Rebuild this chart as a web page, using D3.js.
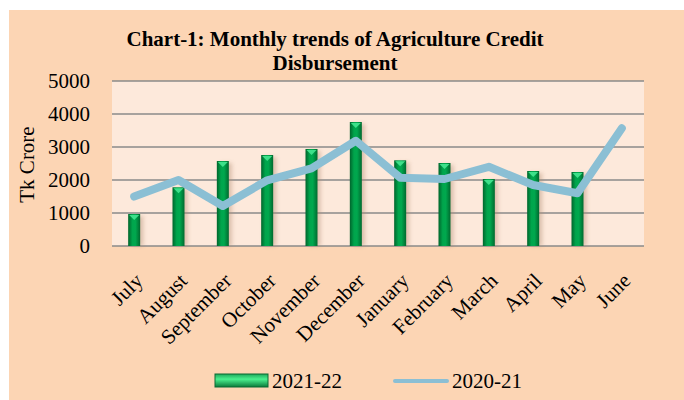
<!DOCTYPE html>
<html>
<head>
<meta charset="utf-8">
<script src="https://cdn.jsdelivr.net/npm/d3@7"></script>
<style>
  body { margin: 0; background: #ffffff; }
  text { font-family: "Liberation Serif", "Times New Roman", serif; fill: #000; }
</style>
</head>
<body>
<div id="chart"></div>
<script>
// chart data
var months = ["July", "August", "September", "October", "November", "December",
              "January", "February", "March", "April", "May", "June"];
var credit2122 = [970, 1780, 2575, 2757, 2940, 3757, 2597, 2515, 2030, 2273, 2242, null];
var credit2021 = [1500, 2000, 1212, 1990, 2354, 3190, 2070, 2030, 2400, 1850, 1600, 3567];
var yTicks = [0, 1000, 2000, 3000, 4000, 5000];

var svgWidth = 684;
var svgHeight = 400;

var margin = { top: 81, left: 112, right: 40, bottom: 154 };
var width = 644 - margin.left;
var height = 246 - margin.top;

var svg = d3.select("#chart")
  .append("svg")
  .attr("width", svgWidth)
  .attr("height", svgHeight);

var defs = svg.append("defs");
var grad = defs.append("linearGradient").attr("id", "barGrad")
  .attr("x1", "0%").attr("x2", "100%").attr("y1", "0%").attr("y2", "0%");
grad.append("stop").attr("offset", "0%").attr("stop-color", "#00652c");
grad.append("stop").attr("offset", "35%").attr("stop-color", "#00a54c");
grad.append("stop").attr("offset", "60%").attr("stop-color", "#00a84e");
grad.append("stop").attr("offset", "100%").attr("stop-color", "#006a2f");

var legGrad = defs.append("linearGradient").attr("id", "legGrad")
  .attr("x1", "0%").attr("x2", "0%").attr("y1", "0%").attr("y2", "100%");
legGrad.append("stop").attr("offset", "0%").attr("stop-color", "#1fa85a");
legGrad.append("stop").attr("offset", "40%").attr("stop-color", "#4cf08f");
legGrad.append("stop").attr("offset", "100%").attr("stop-color", "#0a7a3a");

var blur = defs.append("filter").attr("id", "shadow")
  .attr("x", "-50%").attr("y", "-10%").attr("width", "200%").attr("height", "120%");
blur.append("feGaussianBlur").attr("stdDeviation", 2);

// outer background
svg.append("rect")
  .attr("x", 9).attr("y", 10)
  .attr("width", svgWidth - 9).attr("height", svgHeight - 10)
  .attr("fill", "#fcd5b4");

// title
var title = svg.append("text")
  .attr("text-anchor", "middle")
  .attr("font-weight", "bold")
  .attr("font-size", 21);
title.append("tspan").attr("x", 335).attr("y", 46).text("Chart-1: Monthly trends of Agriculture Credit");
title.append("tspan").attr("x", 335).attr("y", 70).text("Disbursement");

var chartGroup = svg.append("g")
  .attr("transform", `translate(${margin.left}, ${margin.top})`);

chartGroup.append("rect")
  .attr("width", width).attr("height", height)
  .attr("fill", "#fde9db");

var xScale = d3.scaleBand()
  .domain(months)
  .range([0, width]);

var yScale = d3.scaleLinear()
  .domain([0, 5000])
  .range([height, 0]);

// gridlines
chartGroup.selectAll(".grid")
  .data(yTicks)
  .enter()
  .append("line")
  .attr("x1", 0).attr("x2", width)
  .attr("y1", d => yScale(d)).attr("y2", d => yScale(d))
  .attr("stroke", "#8a8a8a")
  .attr("stroke-width", 1.5);

// y axis labels
var leftAxis = d3.axisLeft(yScale).tickValues(yTicks).tickFormat(d3.format("d")).tickSize(0).tickPadding(22);
var yAxis = chartGroup.append("g").call(leftAxis);
yAxis.select(".domain").remove();
yAxis.selectAll("text")
  .attr("font-size", 21)
  .attr("font-family", "Liberation Serif, serif")
  .attr("fill", "#000");

chartGroup.append("text")
  .attr("transform", "rotate(-90)")
  .attr("x", -(height / 2) - 1)
  .attr("y", 34 - margin.left)
  .attr("text-anchor", "middle")
  .attr("font-size", 21)
  .text("Tk Crore");

// bars
var barW = 12;
var barData = months.map((m, i) => ({ month: m, value: credit2122[i] })).filter(d => d.value != null);

chartGroup.selectAll(".bar-shadow")
  .data(barData)
  .enter()
  .append("rect")
  .attr("x", d => xScale(d.month) + xScale.bandwidth() / 2 - barW / 2 + 3)
  .attr("y", d => yScale(d.value) + 2)
  .attr("width", barW)
  .attr("height", d => height - yScale(d.value) - 2)
  .attr("fill", "#b08a70")
  .attr("opacity", 0.45)
  .attr("filter", "url(#shadow)");

chartGroup.selectAll(".bar")
  .data(barData)
  .enter()
  .append("rect")
  .attr("x", d => xScale(d.month) + xScale.bandwidth() / 2 - barW / 2)
  .attr("y", d => yScale(d.value))
  .attr("width", barW)
  .attr("height", d => height - yScale(d.value))
  .attr("fill", "url(#barGrad)");

chartGroup.selectAll(".bar-top")
  .data(barData)
  .enter()
  .append("path")
  .attr("d", d => {
    var cx = xScale(d.month) + xScale.bandwidth() / 2;
    var y = yScale(d.value);
    return `M${cx - 5},${y + 1}L${cx + 5},${y + 1}L${cx},${y + 6}Z`;
  })
  .attr("fill", "#3ee08a");

// line
var line = d3.line()
  .x((d, i) => xScale(months[i]) + xScale.bandwidth() / 2)
  .y(d => yScale(d));

chartGroup.append("path")
  .datum(credit2021)
  .attr("d", line)
  .attr("fill", "none")
  .attr("stroke", "#8bbfd4")
  .attr("stroke-width", 8)
  .attr("stroke-linejoin", "round")
  .attr("stroke-linecap", "round");

// x labels
chartGroup.selectAll(".xlab")
  .data(months)
  .enter()
  .append("text")
  .attr("transform", d => `translate(${xScale(d) + xScale.bandwidth() / 2 + 10}, ${height + 36}) rotate(-45)`)
  .attr("text-anchor", "end")
  .attr("font-size", 21)
  .text(d => d);

// legend
var legend = svg.append("g");
legend.append("rect")
  .attr("x", 215).attr("y", 374).attr("width", 53).attr("height", 13)
  .attr("fill", "url(#legGrad)")
  .attr("stroke", "#0a6a33").attr("stroke-width", 1);
legend.append("text")
  .attr("x", 272).attr("y", 388)
  .attr("font-size", 21)
  .text("2021-22");
legend.append("line")
  .attr("x1", 395).attr("x2", 447).attr("y1", 381).attr("y2", 381)
  .attr("stroke", "#8bbfd4").attr("stroke-width", 4)
  .attr("stroke-linecap", "round");
legend.append("text")
  .attr("x", 452).attr("y", 388)
  .attr("font-size", 21)
  .text("2020-21");
</script>
</body>
</html>
